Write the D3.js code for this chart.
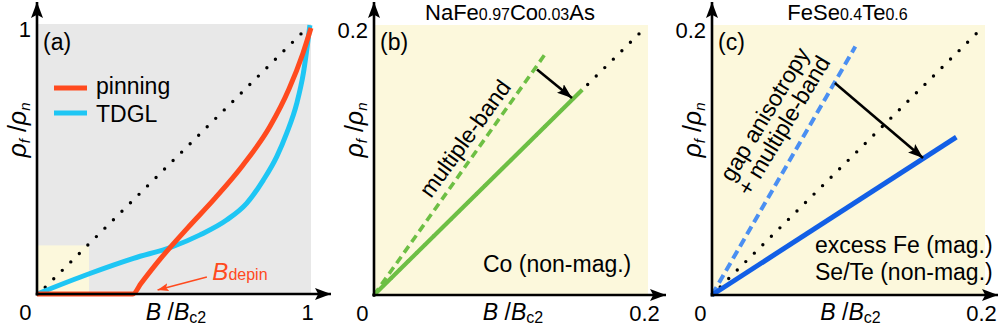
<!DOCTYPE html>
<html>
<head>
<meta charset="utf-8">
<script src="https://cdn.jsdelivr.net/npm/d3@7"></script>
<style>
  body { margin: 0; background: #fff; }
  svg { display: block; }
</style>
</head>
<body>
<script>
const W = 999, H = 333;
const FONT = "'Liberation Sans', Arial, Helvetica, sans-serif";

// panel (a): flux-flow resistivity vs field, full range
const pinning = [[0, 0], [0.35, 0], [0.38, 0.04], [0.45, 0.13], [0.55, 0.245], [0.65, 0.355], [0.75, 0.475], [0.85, 0.62], [0.92, 0.76], [0.97, 0.89], [1, 0.985]];
const tdgl = [[0, 0], [0.193, 0.076], [0.352, 0.132], [0.494, 0.175], [0.595, 0.219], [0.692, 0.274], [0.765, 0.336], [0.826, 0.422], [0.875, 0.509], [0.911, 0.595], [0.948, 0.706], [0.972, 0.817], [0.996, 0.996]];
const diagA = [[0.03, 0.025], [0.975, 0.975]];
const insetBox = [0.19, 0.18];
const depinArrow = [[0.62, 0.063], [0.44, 0.015]];
const legendA = [{ label: "pinning", color: "#ff4a1e" }, { label: "TDGL", color: "#1ec6f4" }];

// panel (b): NaFe0.97Co0.03As
const diagB = [[0, 0], [0.196, 0.196]];
const multiBandB = [[0, 0], [0.126, 0.18]];
const coLine = [[0, 0], [0.152, 0.152]];
const arrowB = [[0.119, 0.167], [0.1445, 0.146]];

// panel (c): FeSe0.4Te0.6
const diagC = [[0.006, 0.006], [0.195, 0.195]];
const multiBandC = [[0, 0], [0.105, 0.184]];
const excessLine = [[0, 0], [0.179, 0.117]];
const arrowC = [[0.09, 0.157], [0.1546, 0.1015]];

const svg = d3.select("body").append("svg")
  .attr("width", W).attr("height", H)
  .attr("viewBox", `0 0 ${W} ${H}`)
  .attr("font-family", FONT);

const defs = svg.append("defs");
function marker(id, color, len, wid) {
  defs.append("marker")
    .attr("id", id)
    .attr("markerUnits", "userSpaceOnUse")
    .attr("markerWidth", len).attr("markerHeight", wid)
    .attr("refX", len).attr("refY", wid / 2)
    .attr("orient", "auto")
    .append("path")
    .attr("d", `M0,0 L${len},${wid / 2} L0,${wid} L${len * 0.2},${wid / 2} Z`)
    .attr("fill", color);
}
marker("axisHead", "#000", 16, 12);
marker("blackHead", "#000", 15, 11);
marker("redHead", "#ff4a1e", 11, 8);

const panels = {
  a: { x: d3.scaleLinear().domain([0, 1]).range([37, 311]), y: d3.scaleLinear().domain([0, 1]).range([294, 24]), tipX: 331, bg: "#e8e8e8", tick: "1" },
  b: { x: d3.scaleLinear().domain([0, 0.2]).range([374, 648]), y: d3.scaleLinear().domain([0, 0.2]).range([295, 25]), tipX: 666, bg: "#fcf8dc", tick: "0.2" },
  c: { x: d3.scaleLinear().domain([0, 0.2]).range([712, 985]), y: d3.scaleLinear().domain([0, 0.2]).range([295, 25]), tipX: 998, bg: "#fcf8dc", tick: "0.2" }
};

function lineGen(p, curve) {
  return d3.line().x(d => p.x(d[0])).y(d => p.y(d[1])).curve(curve || d3.curveLinear);
}

function drawBackground(p) {
  const [x0, x1] = p.x.range();
  const [y0, y1] = p.y.range();
  svg.append("rect")
    .attr("x", x0).attr("y", y1)
    .attr("width", x1 - x0).attr("height", y0 - y1)
    .attr("fill", p.bg);
}

function drawAxes(p, key) {
  const x0 = p.x.range()[0], y0 = p.y.range()[0];
  const xmax = p.x.domain()[1], ymax = p.y.domain()[1];

  svg.append("line")
    .attr("x1", x0).attr("y1", y0 + 1.5).attr("x2", x0).attr("y2", 2)
    .attr("stroke", "#000").attr("stroke-width", 2.6)
    .attr("marker-end", "url(#axisHead)");
  svg.append("line")
    .attr("x1", x0 - 1.3).attr("y1", y0).attr("x2", p.tipX).attr("y2", y0)
    .attr("stroke", "#000").attr("stroke-width", 2.6)
    .attr("marker-end", "url(#axisHead)");

  const xAxis = svg.append("g")
    .attr("transform", `translate(0,${y0})`)
    .call(d3.axisBottom(p.x).tickValues([0, xmax]).tickSize(0).tickPadding(10)
      .tickFormat(d => d === 0 ? "0" : p.tick));
  xAxis.select(".domain").remove();
  xAxis.selectAll("text").attr("font-size", 22).attr("font-family", FONT).attr("fill", "#000");
  xAxis.selectAll(".tick text").filter(d => d === 0).attr("text-anchor", "end").attr("dx", -6);
  xAxis.selectAll(".tick text").filter(d => d !== 0).attr("dx", -4);

  const yAxis = svg.append("g")
    .attr("transform", `translate(${x0},0)`)
    .call(d3.axisLeft(p.y).tickValues([ymax]).tickSize(0).tickPadding(6)
      .tickFormat(() => p.tick));
  yAxis.select(".domain").remove();
  yAxis.selectAll("text").attr("font-size", 22).attr("font-family", FONT).attr("fill", "#000").attr("dy", "0.58em");

  // axis titles
  const xMid = (p.x.range()[0] + p.x.range()[1]) / 2;
  const xl = svg.append("text")
    .attr("x", xMid + 2).attr("y", 320)
    .attr("text-anchor", "middle").attr("font-size", 23);
  xl.append("tspan").attr("font-style", "italic").text("B");
  xl.append("tspan").text(" /");
  xl.append("tspan").attr("font-style", "italic").text("B");
  xl.append("tspan").attr("font-size", 16).attr("dy", 3).text("c2");

  const yl = svg.append("text")
    .attr("transform", `translate(${x0 - 11},130) rotate(-90)`)
    .attr("text-anchor", "middle").attr("font-size", 25);
  yl.append("tspan").attr("font-style", "italic").text("ρ");
  yl.append("tspan").attr("font-style", "italic").attr("font-size", 15).attr("dy", 4).text("f");
  yl.append("tspan").attr("dy", -4).text(" /");
  yl.append("tspan").attr("font-style", "italic").text("ρ");
  yl.append("tspan").attr("font-style", "italic").attr("font-size", 15).attr("dy", 4).text("n");

  svg.append("text")
    .attr("x", x0 + 6).attr("y", 50)
    .attr("font-size", 23)
    .text(`(${key})`);
}

function dotted(p, data) {
  svg.append("path")
    .attr("d", lineGen(p)(data))
    .attr("fill", "none").attr("stroke", "#000")
    .attr("stroke-width", 3.4).attr("stroke-linecap", "round")
    .attr("stroke-dasharray", "0 12");
}

function arrow(p, data, color, width, head) {
  svg.append("path")
    .attr("d", lineGen(p)(data))
    .attr("fill", "none").attr("stroke", color)
    .attr("stroke-width", width)
    .attr("marker-end", `url(#${head})`);
}

function angleOf(p, seg) {
  const dx = p.x(seg[1][0]) - p.x(seg[0][0]);
  const dy = p.y(seg[1][1]) - p.y(seg[0][1]);
  return Math.atan2(dy, dx) * 180 / Math.PI;
}

function title(cx, parts) {
  const t = svg.append("text")
    .attr("x", cx).attr("y", 20)
    .attr("text-anchor", "middle").attr("font-size", 22);
  parts.forEach((s, i) => {
    const ts = t.append("tspan").text(s);
    if (i % 2 === 1) ts.attr("font-size", 16);
  });
}

// ---------- panel (a)
const A = panels.a;
drawBackground(A);
svg.append("rect")
  .attr("x", A.x(0)).attr("y", A.y(insetBox[1]))
  .attr("width", A.x(insetBox[0]) - A.x(0))
  .attr("height", A.y(0) - A.y(insetBox[1]))
  .attr("fill", "#fcf8dc");
dotted(A, diagA);
svg.append("path")
  .attr("d", lineGen(A, d3.curveMonotoneX)(tdgl))
  .attr("fill", "none").attr("stroke", legendA[1].color).attr("stroke-width", 5);
svg.append("path")
  .attr("d", lineGen(A, d3.curveMonotoneX)(pinning))
  .attr("fill", "none").attr("stroke", legendA[0].color).attr("stroke-width", 5);
arrow(A, depinArrow, "#ff4a1e", 1.6, "redHead");

const bd = svg.append("text")
  .attr("x", A.x(0.64)).attr("y", 280)
  .attr("fill", "#ff4a1e").attr("font-size", 24);
bd.append("tspan").attr("font-style", "italic").text("B");
bd.append("tspan").attr("font-size", 16).text("depin");

const leg = svg.append("g");
legendA.forEach((d, i) => {
  const ly = 88 + i * 25;
  leg.append("line")
    .attr("x1", 54).attr("x2", 87).attr("y1", ly).attr("y2", ly)
    .attr("stroke", d.color).attr("stroke-width", 5);
  leg.append("text")
    .attr("x", 96).attr("y", ly + (i === 0 ? 6 : 9))
    .attr("font-size", 23).text(d.label);
});
drawAxes(A, "a");

// ---------- panel (b)
const B = panels.b;
drawBackground(B);
dotted(B, diagB);
svg.append("path")
  .attr("d", lineGen(B)(multiBandB))
  .attr("fill", "none").attr("stroke", "#6dbf44").attr("stroke-width", 3.6)
  .attr("stroke-dasharray", "8 5");
svg.append("path")
  .attr("d", lineGen(B)(coLine))
  .attr("fill", "none").attr("stroke", "#6dbf44").attr("stroke-width", 4.2);
arrow(B, arrowB, "#000", 2.6, "blackHead");

svg.append("text")
  .attr("transform", `translate(${B.x(0.0664)},${B.y(0.116)}) rotate(${angleOf(B, multiBandB) + 0.5})`)
  .attr("text-anchor", "middle").attr("dy", "0.35em")
  .attr("font-size", 23).text("multiple-band");
svg.append("text")
  .attr("x", 483).attr("y", 272)
  .attr("font-size", 23).text("Co (non-mag.)");

title((B.x.range()[0] + B.x.range()[1]) / 2 - 1, ["NaFe", "0.97", "Co", "0.03", "As"]);
drawAxes(B, "b");

// ---------- panel (c)
const C = panels.c;
drawBackground(C);
dotted(C, diagC);
svg.append("path")
  .attr("d", lineGen(C)(multiBandC))
  .attr("fill", "none").attr("stroke", "#4a8ff2").attr("stroke-width", 4)
  .attr("stroke-dasharray", "9 5");
svg.append("path")
  .attr("d", lineGen(C)(excessLine))
  .attr("fill", "none").attr("stroke", "#125fe6").attr("stroke-width", 5);
arrow(C, arrowC, "#000", 2.6, "blackHead");

const rc = svg.append("text")
  .attr("transform", `translate(${C.x(0.0385)},${C.y(0.134)}) rotate(-59)`)
  .attr("text-anchor", "middle").attr("font-size", 23);
rc.append("tspan").attr("x", 0).attr("dy", "0.35em").text("gap anisotropy");
rc.append("tspan").attr("x", 0).attr("dy", "0.96em").text("+ multiple-band");

svg.append("text")
  .attr("x", 815).attr("y", 253)
  .attr("font-size", 23).text("excess Fe (mag.)");
svg.append("text")
  .attr("x", 815).attr("y", 280)
  .attr("font-size", 23).text("Se/Te (non-mag.)");

title((C.x.range()[0] + C.x.range()[1]) / 2 - 1, ["FeSe", "0.4", "Te", "0.6"]);
drawAxes(C, "c");
</script>
</body>
</html>
